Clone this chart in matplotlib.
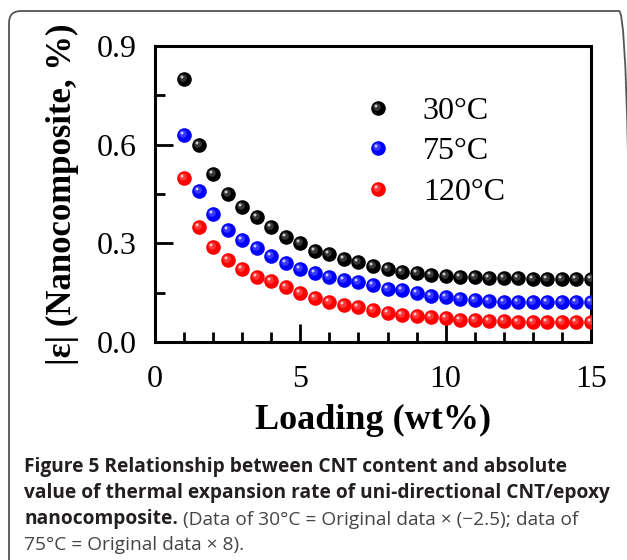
import matplotlib
matplotlib.use("Agg")
import matplotlib.pyplot as plt
from matplotlib.path import Path
from matplotlib.patches import FancyBboxPatch
from matplotlib.transforms import IdentityTransform
from matplotlib.legend_handler import HandlerTuple
from matplotlib.ticker import MultipleLocator

# CNT loading (wt%)
loading = [1.0, 1.5, 2.0, 2.5, 3.0, 3.5, 4.0, 4.5, 5.0, 5.5, 6.0, 6.5, 7.0, 7.5, 8.0,
           8.5, 9.0, 9.5, 10.0, 10.5, 11.0, 11.5, 12.0, 12.5, 13.0, 13.5, 14.0, 14.5, 15.0]
# |strain| of nanocomposite (%)
eps_30 = [0.80, 0.60, 0.51, 0.45, 0.41, 0.38, 0.35, 0.32, 0.30, 0.278, 0.267, 0.253, 0.242, 0.231, 0.222,
          0.214, 0.209, 0.204, 0.201, 0.199, 0.198, 0.196, 0.195, 0.194, 0.193, 0.193, 0.193, 0.193, 0.193]
eps_75 = [0.628, 0.46, 0.39, 0.34, 0.31, 0.285, 0.26, 0.241, 0.221, 0.211, 0.199, 0.189, 0.182, 0.172, 0.162,
          0.157, 0.148, 0.14, 0.136, 0.131, 0.128, 0.125, 0.123, 0.122, 0.122, 0.122, 0.122, 0.122, 0.122]
eps_120 = [0.50, 0.35, 0.29, 0.25, 0.222, 0.199, 0.186, 0.167, 0.148, 0.135, 0.123, 0.113, 0.105, 0.096, 0.088,
           0.083, 0.078, 0.075, 0.072, 0.068, 0.066, 0.064, 0.063, 0.062, 0.062, 0.062, 0.062, 0.062, 0.062]

series = [eps_30, eps_75, eps_120]
series_labels = ["30°C", "75°C", "120°C"]
series_colors = ["#000000", "#0000ff", "#ff0000"]

caption_bold = ["Figure 5 Relationship between CNT content and absolute",
                "value of thermal expansion rate of uni-directional CNT/epoxy",
                "nanocomposite."]
caption_rest = ["(Data of 30°C = Original data × (−2.5); data of",
                "75°C = Original data × 8)."]

SERIF = "Liberation Serif"
SANS = "Open Sans"
MS = 10.5  # marker diameter, points


def highlight_marker(cx, cy, r):
    """small offset circle used as a specular spot; returns (marker, size factor)"""
    p = Path.circle(center=(cx, cy), radius=r)
    m = max(abs(cx) + r, abs(cy) + r)
    return p, 2 * m


hl_big, f_big = highlight_marker(-0.1, 0.1, 0.26)
hl_small, f_small = highlight_marker(-0.17, 0.17, 0.1)

W, H = 627, 560
fig = plt.figure(figsize=(W / 100, H / 100), dpi=100)
fig.patch.set_facecolor("white")

# rounded frame around figure + caption (pixel units, origin bottom-left)
frame = FancyBboxPatch((9, -30), 622, H - 11 + 30,
                       boxstyle="round,pad=0,rounding_size=12",
                       transform=IdentityTransform(), facecolor="none",
                       edgecolor="#555555", linewidth=1.3)
fig.patches.append(frame)

ax = fig.add_axes([155 / W, (H - 342) / H, 436 / W, 296 / H])

handles = []
for vals, col in zip(series, series_colors):
    base, = ax.plot(loading, vals, linestyle="none", marker="o", ms=MS,
                    mfc=col, mec=col, mew=0, zorder=3)
    glow, = ax.plot(loading, vals, linestyle="none", marker=hl_big, ms=MS * f_big,
                    mfc="white", mew=0, alpha=0.22, zorder=4)
    spot, = ax.plot(loading, vals, linestyle="none", marker=hl_small, ms=MS * f_small,
                    mfc="white", mew=0, alpha=0.75, zorder=5)
    handles.append((base, glow, spot))

ax.set_xlim(0, 15)
ax.set_ylim(0, 0.9)
ax.xaxis.set_major_locator(MultipleLocator(5))
ax.xaxis.set_minor_locator(MultipleLocator(1))
ax.yaxis.set_major_locator(MultipleLocator(0.3))
ax.yaxis.set_minor_locator(MultipleLocator(0.15))
ax.yaxis.set_major_formatter(plt.FuncFormatter(lambda v, _: f"{v:.1f}"))
ax.xaxis.set_major_formatter(plt.FuncFormatter(lambda v, _: f"{v:.0f}"))

for s in ax.spines.values():
    s.set_linewidth(2.2)
ax.tick_params(which="both", direction="in", top=False, right=False, width=2)
ax.tick_params(which="major", length=13, pad=13, labelsize=23)
ax.tick_params(axis="x", which="major", pad=16.5)
ax.tick_params(which="minor", length=7)
for lab in ax.get_xticklabels() + ax.get_yticklabels():
    lab.set_fontfamily(SERIF)

ax.set_xlabel("Loading (wt%)", fontsize=26, fontweight="bold", fontfamily=SERIF)
ax.xaxis.set_label_coords(0.5, -0.21)
ax.set_ylabel("|ε| (Nanocomposite, %)", fontsize=25, fontweight="bold", fontfamily=SERIF)
ax.yaxis.set_label_coords(-0.175, 0.5)

ax.legend(handles, series_labels, handler_map={tuple: HandlerTuple(ndivide=1)},
          loc="upper left", bbox_to_anchor=(0.475, 0.83), frameon=False,
          borderpad=0, borderaxespad=0, handlelength=1.0, handletextpad=0.9,
          labelspacing=0.35, prop={"family": SERIF, "size": 23})

# caption
cap_x = 24 / W
baselines = [472, 498, 524, 550]
cap_size = 13.8
for i, txt in enumerate(caption_bold):
    t = fig.text(cap_x, 1 - baselines[i] / H, txt, fontsize=cap_size, fontweight="bold",
                 fontfamily=SANS, color="#231f20", va="baseline", ha="left")
ax.annotate(caption_rest[0], xy=(1, 0), xycoords=t, xytext=(3.5, 0), textcoords="offset points",
            fontsize=cap_size, fontfamily=SANS, color="#454545", va="bottom", ha="left",
            annotation_clip=False)
fig.text(cap_x, 1 - baselines[3] / H, caption_rest[1], fontsize=cap_size, fontfamily=SANS,
         color="#454545", va="baseline", ha="left")

fig.savefig("out.png", dpi=100, facecolor="white")
